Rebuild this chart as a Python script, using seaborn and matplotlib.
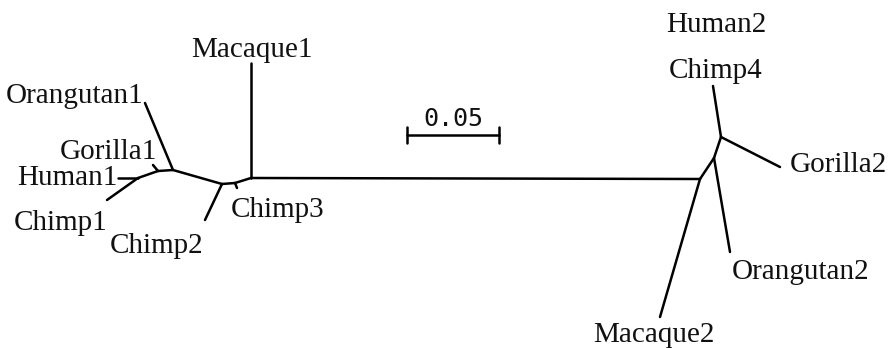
#%% Unrooted tree of the two primate gene copies.
import pandas as pd
import matplotlib
matplotlib.use('Agg')
import matplotlib.pyplot as plt
import seaborn as sns

# Node layout of the unrooted tree (drawing units, y grows downward).
node_names = ['A', 'G1n', 'B', 'C', 'C2', 'D', 'E', 'F', 'H',
              'Orangutan1', 'Gorilla1', 'Human1', 'Chimp1', 'Chimp2', 'Chimp3',
              'Macaque1', 'Macaque2', 'Orangutan2', 'Chimp4', 'Gorilla2']
node_x = [173, 158, 138, 222, 235, 251, 700, 714, 721,
          145, 153, 118, 107, 205, 237, 251, 660, 730, 713, 780]
node_y = [170, 171, 178, 184, 183, 178, 179, 158, 137,
          103, 165, 178, 200, 220, 188, 63, 317, 252, 86, 167]

# Branches (from, to).
edge_from = ['A', 'G1n', 'G1n', 'B', 'B', 'A', 'A', 'C', 'C', 'C2', 'C2', 'D', 'D',
             'E', 'E', 'F', 'F', 'H', 'H']
edge_to = ['G1n', 'Gorilla1', 'B', 'Human1', 'Chimp1', 'Orangutan1', 'C', 'Chimp2',
           'C2', 'Chimp3', 'D', 'Macaque1', 'E', 'Macaque2', 'F', 'Orangutan2', 'H',
           'Chimp4', 'Gorilla2']

# Tip labels (Human2 shares the Chimp4 tip).
label_text = ['Orangutan1', 'Gorilla1', 'Human1', 'Chimp1', 'Chimp2', 'Chimp3',
              'Macaque1', 'Human2', 'Chimp4', 'Gorilla2', 'Orangutan2', 'Macaque2']
label_x = [143, 157, 118, 61, 157, 278, 252, 716, 716, 790, 732, 654]
label_y = [103, 159, 185, 230, 253, 217, 57, 32, 78, 172, 279, 342]
label_ha = ['right', 'right', 'right', 'center', 'center', 'center', 'center',
            'center', 'center', 'left', 'left', 'center']

scale_value = 0.05
scale_len = 92  # drawing units for 0.05 substitutions/site

#%% Build the long-form segment table.
pos = dict(zip(node_names, zip(node_x, node_y)))
rows = []
for i, (a, b) in enumerate(zip(edge_from, edge_to)):
    for n in (a, b):
        rows.append({'edge': i, 'x': pos[n][0], 'y': pos[n][1]})
segments = pd.DataFrame(rows)

#%% Draw.
sns.set_style('white')
fig = plt.figure(figsize=(8.88, 3.48), dpi=100)
ax = fig.add_axes([0, 0, 1, 1])
sns.lineplot(data=segments, x='x', y='y', units='edge', estimator=None, sort=False,
             color='black', lw=1.8, ax=ax, legend=False)

for t, x, y, ha in zip(label_text, label_x, label_y, label_ha):
    ax.text(x, y, t, ha=ha, va='baseline', fontsize=21, family='Liberation Serif',
            color='#111111')

# Scale bar.
sx0, sy = 407, 135
ax.plot([sx0, sx0 + scale_len], [sy, sy], color='black', lw=1.8)
for xx in (sx0, sx0 + scale_len):
    ax.plot([xx, xx], [sy - 8, sy + 8], color='black', lw=1.8)
ax.text(sx0 + scale_len / 2, 126, '%.2f' % scale_value, ha='center', va='baseline',
        fontsize=18, family='DejaVu Sans Mono', color='#111111')

ax.set_xlim(0, 888)
ax.set_ylim(348, 0)
ax.axis('off')
fig.savefig('out.png', dpi=100, facecolor='white')
